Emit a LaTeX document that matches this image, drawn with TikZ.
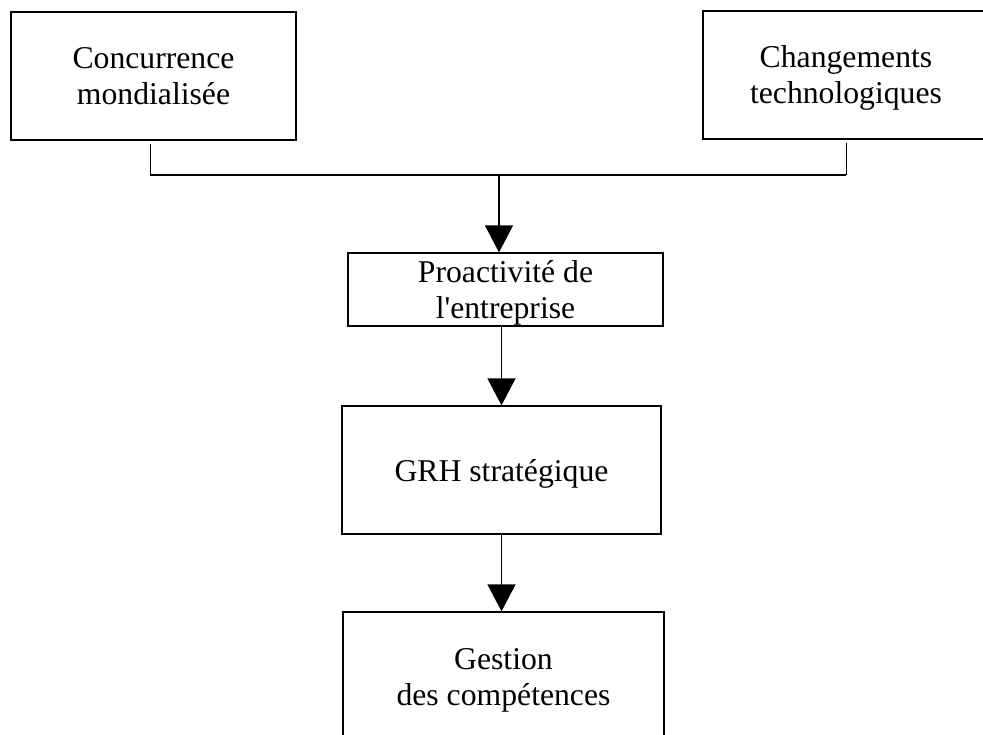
\documentclass[tikz,border=0pt]{standalone}
\usepackage{fontspec}
\setmainfont{Liberation Serif}
\usetikzlibrary{arrows.meta}
\newcommand\bxs{\rule[-7pt]{0pt}{36pt}}
\begin{document}
\begin{tikzpicture}[x=1pt,y=-1pt,
  box/.style={draw=black,line width=1.3pt,rectangle,inner sep=0pt,align=center,
    font=\fontsize{31.7pt}{36pt}\selectfont},
  stub/.style={draw=black,line width=1pt},
  bus/.style={draw=black,line width=2.4pt},
  arr/.style={draw=black,line width=1.4pt,-{Triangle[width=28pt,length=27pt]}}]
\useasboundingbox (0,0) rectangle (983,735);
\clip (0,0) rectangle (983,735);
\fill[white] (0,0) rectangle (983,735);
\node[box,minimum width=285pt,minimum height=128pt] (cm) at (153.5,76) {\bxs Concurrence\\\bxs mondialisée};
\node[box,minimum width=286pt,minimum height=128pt] (ct) at (846,75) {\bxs Changements\\\bxs technologiques};
\node[box,minimum width=315pt,minimum height=73pt] (pro) at (505.5,289.5) {\bxs Proactivité de\\\bxs l\textquotesingle entreprise};
\node[box,minimum width=319pt,minimum height=128pt] (grh) at (501.5,470) {\bxs GRH stratégique};
\node[box,minimum width=321pt,minimum height=128pt] (gc) at (503.5,676) {\bxs Gestion\\\bxs des compétences};
\coordinate (jl) at (150,175);
\coordinate (jr) at (846,175);
\coordinate (jm) at (499,175);
\draw[stub] ([yshift=-3pt]cm.south -| jl) -- (jl);
\draw[stub] ([yshift=-3pt]ct.south -| jr) -- (jr);
\draw[bus] (jl) -- (jr);
\draw[arr] (jm) -- (jm |- pro.north);
\draw[arr] (pro.south -| grh.north) -- (grh.north);
\draw[arr] (grh.south) -- (grh.south |- gc.north);
\end{tikzpicture}
\end{document}
